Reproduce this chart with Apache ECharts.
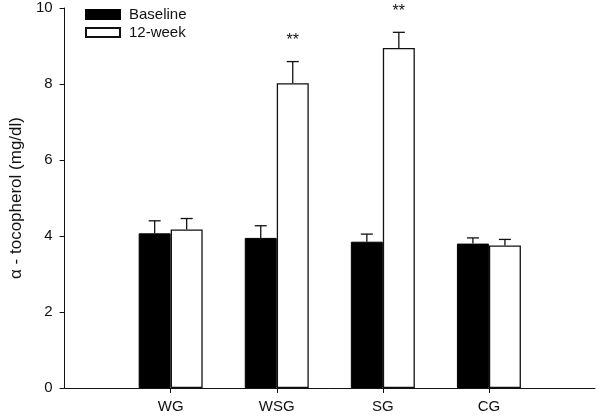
<!DOCTYPE html>
<html>
<head>
<meta charset="utf-8">
<script src="https://cdn.jsdelivr.net/npm/echarts@6/dist/echarts.min.js"></script>
<style>html,body{margin:0;padding:0;background:#fff}#c{width:600px;height:420px}</style>
</head>
<body>
<div id="c"></div>
<script>
const categories = ['', 'WG', 'WSG', 'SG', 'CG', ''];
const baseline = [null, 4.07, 3.95, 3.85, 3.80, null];
const baselineErr = [null, 0.33, 0.32, 0.20, 0.15, null];
const week12 = [null, 4.17, 8.02, 8.95, 3.75, null];
const week12Err = [null, 0.29, 0.57, 0.41, 0.16, null];
const signif = ['', '', '**', '**', '', ''];
const yTicks = [0, 2, 4, 6, 8, 10];

const FONT = 'Liberation Sans, Arial, sans-serif';
const chart = echarts.init(document.getElementById('c'), null, {renderer: 'canvas'});

function errData(vals, errs) {
  const out = [];
  vals.forEach((v, i) => { if (v != null) out.push([i, v, errs[i], signif[i]]); });
  return out;
}
function errRenderer(offset, showSig) {
  return function (params, api) {
    const x = api.value(0), v = api.value(1), e = api.value(2);
    const p0 = api.coord([x, v]);
    const p1 = api.coord([x, v + e]);
    const cx = p0[0] + offset;
    const children = [
      {type: 'line', shape: {x1: cx, y1: p0[1], x2: cx, y2: p1[1]}, style: {stroke: '#111', lineWidth: 1.3}},
      {type: 'line', shape: {x1: cx - 6, y1: p1[1], x2: cx + 6, y2: p1[1]}, style: {stroke: '#111', lineWidth: 1.3}}
    ];
    const s = showSig ? api.value(3) : '';
    if (s) {
      children.push({type: 'text', style: {x: cx, y: p1[1] - 29, text: s, fill: '#111', font: '16px ' + FONT, align: 'center', verticalAlign: 'top'}});
    }
    return {type: 'group', children};
  };
}

chart.setOption({
  animation: false,
  textStyle: {fontFamily: FONT},
  grid: {left: 62, right: 5, top: 8, bottom: 32, containLabel: false},
  legend: {
    orient: 'vertical', left: 80, top: 2, itemWidth: 34, itemHeight: 9, itemGap: 3,
    icon: 'rect',
    textStyle: {fontSize: 15, color: '#111', fontFamily: FONT, padding: [0, 0, 0, 4]},
    data: ['Baseline', '12-week']
  },
  xAxis: {
    type: 'category', data: categories, boundaryGap: false,
    axisLine: {show: true, lineStyle: {color: '#111', width: 1}},
    axisTick: {show: true, length: 5, interval: (i) => i >= 1 && i <= 4, lineStyle: {color: '#111'}},
    axisLabel: {interval: 0, margin: 11, fontSize: 15, color: '#111', fontFamily: FONT},
    splitLine: {show: false}
  },
  yAxis: {
    type: 'value', min: yTicks[0], max: yTicks[yTicks.length - 1], interval: 2,
    name: 'α - tocopherol (mg/dl)', nameLocation: 'middle', nameGap: 39,
    nameTextStyle: {fontSize: 17, color: '#111', fontFamily: FONT},
    axisLine: {show: true, lineStyle: {color: '#111', width: 1}},
    axisTick: {show: true, inside: false, length: 5, lineStyle: {color: '#111'}},
    axisLabel: {fontSize: 15, color: '#111', margin: 12, fontFamily: FONT},
    splitLine: {show: false}
  },
  series: [
    {name: 'Baseline', type: 'bar', data: baseline, barWidth: 32, barGap: '0%',
     itemStyle: {color: '#000', borderColor: '#000', borderWidth: 1}},
    {name: '12-week', type: 'bar', data: week12, barWidth: 32, barGap: '0%',
     itemStyle: {color: '#fff', borderColor: '#111', borderWidth: 1.3}},
    {type: 'custom', data: errData(baseline, baselineErr), renderItem: errRenderer(-16, false), z: 5, silent: true},
    {type: 'custom', data: errData(week12, week12Err), renderItem: errRenderer(16, true), z: 5, silent: true}
  ]
});
</script>
</body>
</html>
